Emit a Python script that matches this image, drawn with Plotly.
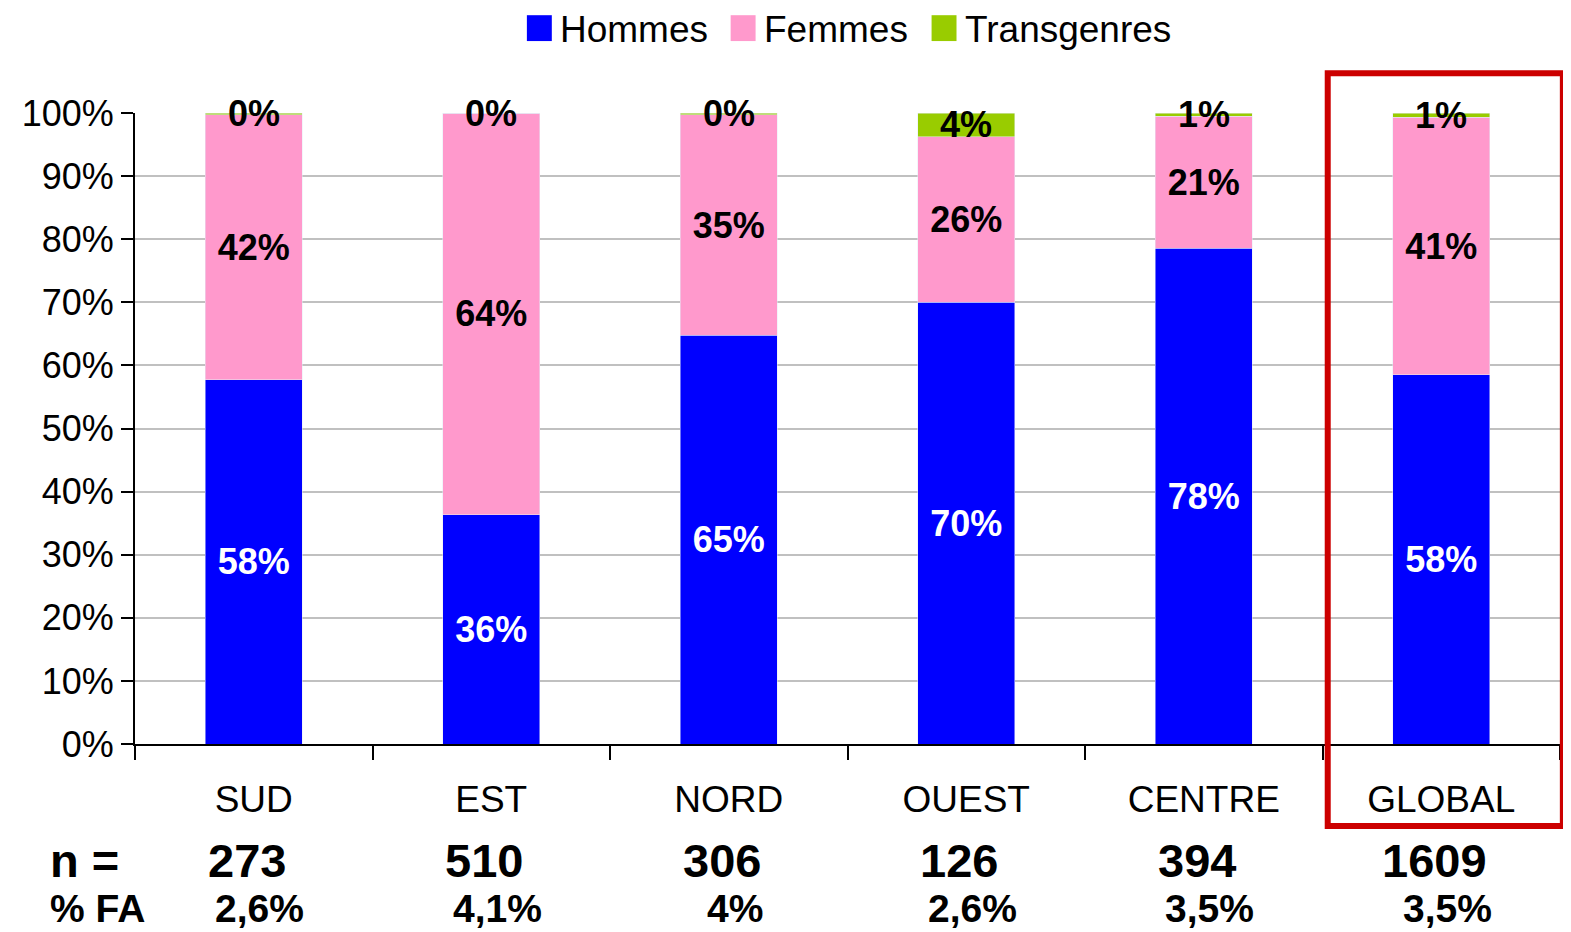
import plotly.graph_objects as go

regions = ["SUD", "EST", "NORD", "OUEST", "CENTRE", "GLOBAL"]
hommes = [57.7, 36.3, 64.8, 70.0, 78.6, 58.5]
femmes = [42.0, 63.7, 34.9, 26.2, 20.9, 40.8]
trans = [0.3, 0.0, 0.3, 3.8, 0.5, 0.7]
lab_hommes = ["58%", "36%", "65%", "70%", "78%", "58%"]
lab_femmes = ["42%", "64%", "35%", "26%", "21%", "41%"]
lab_trans = ["0%", "0%", "0%", "4%", "1%", "1%"]
n_vals = ["273", "510", "306", "126", "394", "1609"]
fa_vals = ["2,6%", "4,1%", "4%", "2,6%", "3,5%", "3,5%"]
y_ticks = list(range(0, 101, 10))

FONT = "Liberation Sans, Arial, sans-serif"
COLORS = {"Hommes": "#0000FF", "Femmes": "#FF99CC", "Transgenres": "#99CC00"}

fig = go.Figure()
fig.add_trace(go.Bar(x=regions, y=hommes, name="Hommes", marker_color=COLORS["Hommes"],
                     text=lab_hommes, textposition="inside", insidetextanchor="middle",
                     textfont=dict(color="white", size=36, family=FONT, weight="bold")))
fig.add_trace(go.Bar(x=regions, y=femmes, name="Femmes", marker_color=COLORS["Femmes"],
                     text=lab_femmes, textposition="inside", insidetextanchor="middle",
                     textfont=dict(color="black", size=36, family=FONT, weight="bold")))
fig.add_trace(go.Bar(x=regions, y=trans, name="Transgenres", marker_color=COLORS["Transgenres"]))

# labels for the thin top segments, centred on the segment
for r, h, f, t, lab in zip(regions, hommes, femmes, trans, lab_trans):
    fig.add_annotation(x=r, y=h + f + t / 2, text="<b>" + lab + "</b>", showarrow=False,
                       font=dict(size=36, family=FONT, color="black"))

# n and % FA rows under the axis
for r, n, fa in zip(regions, n_vals, fa_vals):
    fig.add_annotation(x=r, y=0, yref="paper", yshift=-116, yanchor="middle", xshift=-7,
                       text="<b>" + n + "</b>", showarrow=False,
                       font=dict(size=47, family=FONT, color="black"))
    fig.add_annotation(x=r, y=0, yref="paper", yshift=-164, yanchor="middle", xshift=6,
                       text="<b>" + fa + "</b>", showarrow=False,
                       font=dict(size=39, family=FONT, color="black"))
fig.add_annotation(x=0, xref="paper", xshift=-87, y=0, yref="paper", yshift=-116,
                   xanchor="left", yanchor="middle", text="<b>n =</b>", showarrow=False,
                   font=dict(size=47, family=FONT, color="black"))
fig.add_annotation(x=0, xref="paper", xshift=-87, y=0, yref="paper", yshift=-164,
                   xanchor="left", yanchor="middle", text="<b>% FA</b>", showarrow=False,
                   font=dict(size=39, family=FONT, color="black"))

# legend drawn by hand so the swatches are as big as in the original
legend_x = [0.275, 0.418, 0.559]
for (name, col), lx in zip(COLORS.items(), legend_x):
    fig.add_shape(type="rect", xref="paper", yref="paper", x0=lx, x1=lx + 0.0175,
                  y0=1.114, y1=1.155, fillcolor=col, line_width=0)
    fig.add_annotation(xref="paper", yref="paper", x=lx + 0.0175, y=1.132, xshift=6,
                       xanchor="left", yanchor="middle", text=name, showarrow=False,
                       font=dict(size=37, family=FONT, color="black"))

# highlight box around GLOBAL
fig.add_shape(type="rect", xref="paper", yref="paper", x0=0.837, x1=1.002, y0=-0.130, y1=1.063,
              line=dict(color="#CC0000", width=6))

# the page body has an 8px margin, so the figure is sized to fit inside the window
fig.update_layout(
    barmode="stack",
    bargap=0.59,
    width=1563, height=924,
    margin=dict(l=127, r=11, t=105, b=188, autoexpand=False),
    plot_bgcolor="white", paper_bgcolor="white",
    font=dict(family=FONT, color="black", size=34),
    showlegend=False,
)
fig.update_xaxes(type="category", tickson="boundaries", ticks="outside", ticklen=14, tickwidth=2,
                 tickcolor="black", showline=True, linecolor="black", linewidth=2,
                 tickfont=dict(size=37, family=FONT), ticklabelstandoff=22, automargin=False)
fig.update_yaxes(range=[0, 100], tickvals=y_ticks, ticktext=[f"{v}%" for v in y_ticks],
                 ticks="outside", ticklen=12, tickwidth=2, tickcolor="black",
                 showline=True, linecolor="black", linewidth=2,
                 gridcolor="#C0C0C0", gridwidth=2, tickfont=dict(size=36, family=FONT),
                 zeroline=False, automargin=False)

fig.write_html("out.html")
